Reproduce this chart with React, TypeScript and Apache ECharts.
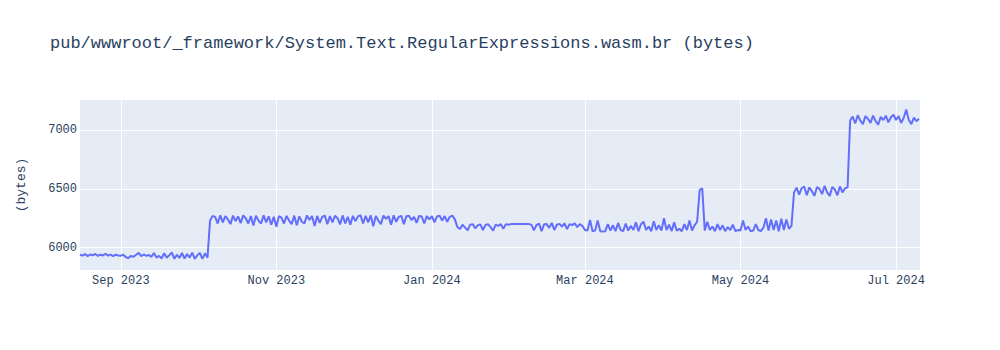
import React, { useEffect, useRef } from "react";
import * as echarts from "echarts";

const TITLE = "pub/wwwroot/_framework/System.Text.RegularExpressions.wasm.br (bytes)";
const Y_NAME = "(bytes)";

// daily values, each array starts at the given date
const aug2023 = [5940, 5932, 5945, 5928, 5942, 5936, 5946, 5930, 5940, 5934, 5948, 5932, 5941, 5928, 5940, 5933];
const sep2023 = [5932, 5940, 5918, 5912, 5930, 5922, 5940, 5956, 5928, 5942, 5930, 5938, 5922, 5955, 5915, 5930, 5908, 5952, 5915, 5935, 5960, 5905, 5940, 5912, 5955, 5908, 5945, 5915, 5958, 5905];
const oct2023 = [5935, 5955, 5905, 5952, 5915, 6230, 6270, 6262, 6205, 6275, 6215, 6268, 6240, 6200, 6272, 6225, 6266, 6208, 6274, 6250, 6205, 6268, 6188, 6272, 6230, 6205, 6275, 6215, 6266, 6195, 6262];
const nov2023 = [6178, 6268, 6255, 6205, 6270, 6230, 6200, 6272, 6190, 6266, 6220, 6205, 6274, 6235, 6268, 6185, 6270, 6210, 6262, 6273, 6200, 6268, 6215, 6271, 6250, 6198, 6274, 6205, 6262, 6195];
const dec2023 = [6270, 6225, 6266, 6275, 6205, 6270, 6215, 6274, 6182, 6268, 6230, 6200, 6272, 6245, 6268, 6195, 6275, 6220, 6262, 6270, 6200, 6268, 6272, 6235, 6262, 6210, 6270, 6265, 6205, 6268, 6240];
const jan2024 = [6268, 6215, 6265, 6272, 6230, 6268, 6220, 6262, 6272, 6240, 6175, 6158, 6195, 6170, 6148, 6195, 6200, 6165, 6190, 6198, 6150, 6192, 6200, 6175, 6145, 6195, 6185, 6200, 6160, 6200, 6195];
const feb2024 = [6200, 6200, 6200, 6200, 6200, 6200, 6200, 6200, 6195, 6148, 6192, 6205, 6140, 6198, 6200, 6168, 6210, 6150, 6195, 6202, 6180, 6205, 6158, 6200, 6192, 6206, 6175, 6200, 6185];
const mar2024 = [6150, 6145, 6235, 6140, 6145, 6230, 6140, 6138, 6140, 6200, 6145, 6190, 6140, 6210, 6150, 6140, 6205, 6145, 6185, 6150, 6215, 6140, 6200, 6220, 6150, 6180, 6140, 6225, 6150, 6190, 6145];
const apr2024 = [6250, 6150, 6195, 6140, 6215, 6145, 6160, 6140, 6200, 6150, 6230, 6145, 6190, 6220, 6490, 6505, 6145, 6220, 6150, 6180, 6140, 6200, 6150, 6190, 6140, 6175, 6150, 6195, 6140, 6150];
const may2024 = [6145, 6230, 6150, 6180, 6140, 6145, 6200, 6150, 6140, 6170, 6250, 6145, 6240, 6150, 6230, 6140, 6245, 6150, 6240, 6160, 6185, 6470, 6510, 6450, 6505, 6520, 6445, 6512, 6480, 6440, 6515];
const jun2024 = [6500, 6455, 6525, 6470, 6440, 6515, 6495, 6445, 6520, 6470, 6505, 6512, 7080, 7115, 7055, 7125, 7080, 7050, 7118, 7095, 7060, 7122, 7075, 7045, 7112, 7085, 7122, 7065, 7108, 7130];
const jul2024 = [7085, 7118, 7060, 7102, 7175, 7085, 7050, 7105, 7075, 7095];

const segments: [number, number, number, number[]][] = [
  [2023, 8, 16, aug2023],
  [2023, 9, 1, sep2023],
  [2023, 10, 1, oct2023],
  [2023, 11, 1, nov2023],
  [2023, 12, 1, dec2023],
  [2024, 1, 1, jan2024],
  [2024, 2, 1, feb2024],
  [2024, 3, 1, mar2024],
  [2024, 4, 1, apr2024],
  [2024, 5, 1, may2024],
  [2024, 6, 1, jun2024],
  [2024, 7, 1, jul2024],
];

const xTickDates: [number, number][] = [
  [2023, 9], [2023, 11], [2024, 1], [2024, 3], [2024, 5], [2024, 7],
];
const yTicks = [6000, 6500, 7000];
const MONTHS = ["Jan", "Feb", "Mar", "Apr", "May", "Jun", "Jul", "Aug", "Sep", "Oct", "Nov", "Dec"];

const FONT = "'Courier New', 'Liberation Mono', monospace";
const TEXT = "#2a3f5f";

export default function App() {
  const ref = useRef<HTMLDivElement>(null);
  useEffect(() => {
    document.body.style.margin = "0";
    if (!ref.current) return;
    const chart = echarts.init(ref.current, null, { renderer: "svg" });
    const data: [number, number][] = [];
    for (const [y, m, d, vals] of segments) {
      vals.forEach((v, i) => data.push([new Date(y, m - 1, d + i).getTime(), v]));
    }
    const xTicks = xTickDates.map(([y, m]) => new Date(y, m - 1, 1).getTime());
    const xMin = data[0][0];
    const xMax = data[data.length - 1][0] + 0.4 * 86400000;
    chart.setOption({
      animation: false,
      backgroundColor: "#ffffff",
      title: {
        text: TITLE,
        left: 50,
        top: 35,
        padding: 0,
        textStyle: { fontFamily: FONT, fontSize: 17, fontWeight: "normal", color: TEXT },
      },
      grid: {
        left: 80,
        right: 80,
        top: 100,
        bottom: 80,
        show: true,
        backgroundColor: "#E5ECF6",
        borderWidth: 0,
      },
      xAxis: {
        type: "value",
        min: xMin,
        max: xMax,
        axisLine: { show: false },
        axisTick: { show: false, customValues: xTicks },
        splitLine: { show: true, lineStyle: { color: "#ffffff", width: 1 } },
        axisLabel: {
          customValues: xTicks,
          margin: 5,
          fontFamily: FONT,
          fontSize: 12,
          color: TEXT,
          formatter: (v: number) => {
            const dt = new Date(v);
            return `${MONTHS[dt.getMonth()]} ${dt.getFullYear()}`;
          },
        },
      },
      yAxis: {
        type: "value",
        min: 5810,
        max: 7255,
        name: Y_NAME,
        nameLocation: "middle",
        nameGap: 52,
        nameTextStyle: { fontFamily: FONT, fontSize: 13, color: TEXT },
        axisLine: { show: false },
        axisTick: { show: false, customValues: yTicks },
        splitLine: { show: true, lineStyle: { color: "#ffffff", width: 1 } },
        axisLabel: {
          customValues: yTicks,
          margin: 3,
          fontFamily: FONT,
          fontSize: 12,
          color: TEXT,
          formatter: (v: number) => String(v),
        },
      },
      series: [
        {
          type: "line",
          data,
          showSymbol: false,
          symbol: "none",
          lineStyle: { color: "#636efa", width: 2 },
          itemStyle: { color: "#636efa" },
        },
      ],
    });
    return () => chart.dispose();
  }, []);
  return <div ref={ref} style={{ width: 1000, height: 350 }} />;
}
